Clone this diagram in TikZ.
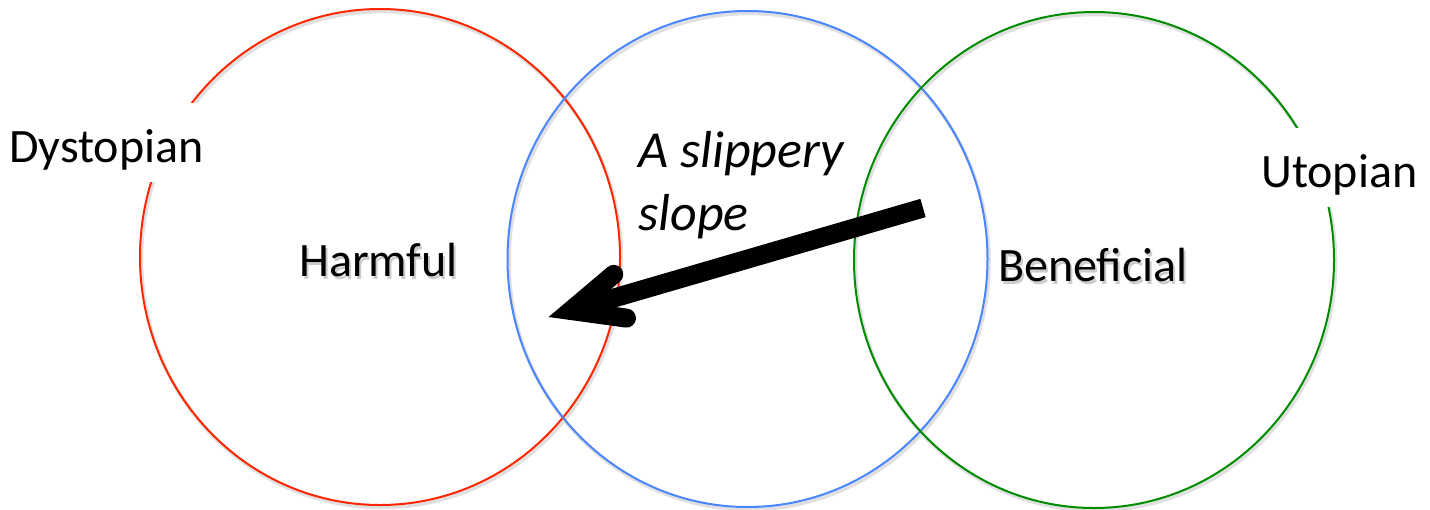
\documentclass[tikz,border=0pt]{standalone}
\usepackage{fontspec}
\setmainfont{Carlito}
\usetikzlibrary{shapes.geometric,calc}
\definecolor{cred}{RGB}{255,38,0}
\definecolor{cblue}{RGB}{74,134,255}
\definecolor{cgreen}{RGB}{0,140,0}
\newcommand\shadowedtext[1]{\rlap{\hspace{2pt}\raisebox{-3pt}{\color{black!20}#1}}#1}
\tikzset{
  ring/.style={ellipse, draw=#1, line width=2pt, minimum width=480pt, minimum height=496pt, inner sep=0pt},
  ringshadow/.style={ellipse, draw=black!12, line width=3.5pt, minimum width=480pt, minimum height=496pt, inner sep=0pt},
  outerlabel/.style={fill=white, font=\fontsize{48}{57}\selectfont, inner xsep=6pt, inner ysep=0pt, text height=59pt, text depth=20pt, anchor=base west},
  innerlabel/.style={font=\fontsize{48}{57}\selectfont, inner sep=0pt, anchor=base west},
  slopelabel/.style={font=\fontsize{52}{63}\selectfont\itshape, inner sep=0pt, align=left, anchor=base west},
  shaft/.style={line width=19pt, line cap=butt},
  barb/.style={line width=19pt, line cap=round, line join=miter},
}
\begin{document}
\begin{tikzpicture}[x=1pt,y=-1pt]
\useasboundingbox (0,0) rectangle (1430,509);
\fill[white] (0,0) rectangle (1430,509);
% shadows of circles
\node[ringshadow] (harmS) at (381.5,259.5) {};
\node[ringshadow] (midS) at (749,261.5) {};
\node[ringshadow] (beneS) at (1095.5,262.5) {};
% circles
\node[ring=cred] (harm) at (380,257) {};
\node[ring=cblue] (mid) at (747.5,259) {};
\node[ring=cgreen] (bene) at (1094,260) {};
% arrow
\coordinate (tail) at (923,208);
\coordinate (tipV) at (571,310.5);
\draw[shaft] (tail) -- (tipV);
\draw[barb] ($(tipV)+(-40.2:56)$) -- (tipV) -- ($(tipV)+(7.8:56)$);
% labels
\node[outerlabel] (dys) at (3,162) {Dystopian};
\node[outerlabel] (uto) at (1255,187) {Utopian};
\node[innerlabel] (harmful) at (299,276) {\shadowedtext{Harmful}};
\node[innerlabel] (benef) at (998,281) {\shadowedtext{Beneficial}};
\node[slopelabel] (slope) at (638,230) {A slippery\\slope};
\end{tikzpicture}
\end{document}
